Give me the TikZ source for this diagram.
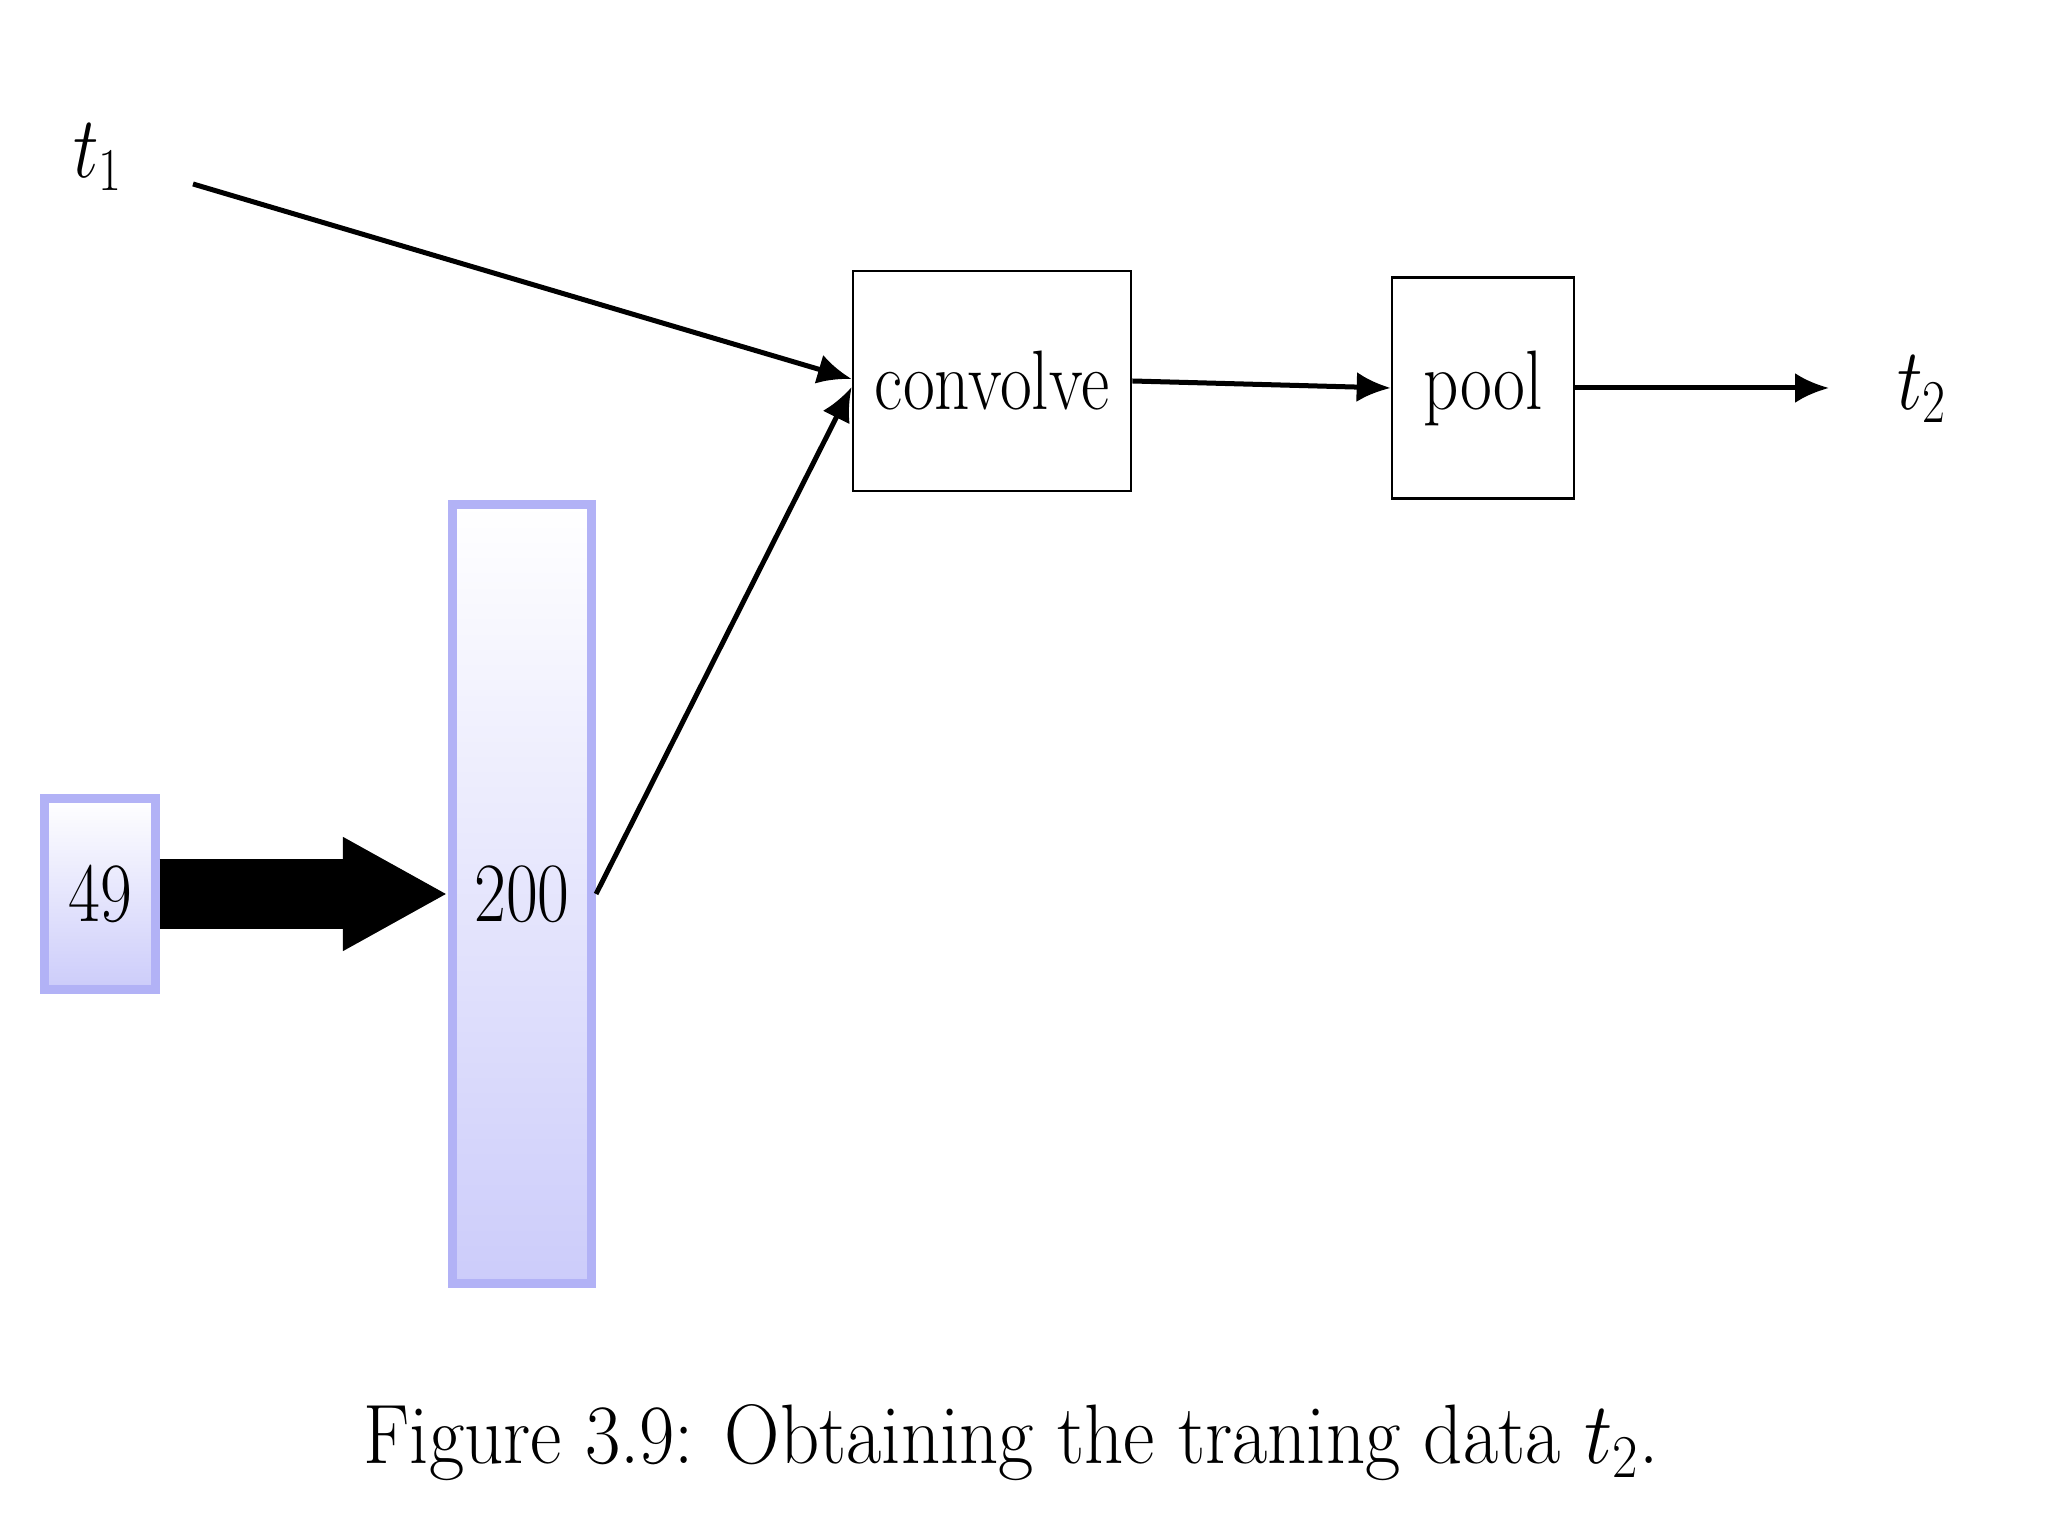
\documentclass[tikz,border=0pt]{standalone}
\usetikzlibrary{arrows.meta}
\definecolor{layline}{RGB}{178,178,246}
\definecolor{laybot}{RGB}{204,204,250}
\newcommand{\sqz}[1]{\scalebox{0.82}[1]{#1}}
\newcommand{\sqzcap}[1]{\scalebox{0.91}[1]{#1}}
\tikzset{
  txt/.style={font=\fontsize{24}{28}\selectfont, inner sep=0pt},
  blk/.style={draw=black, line width=0.025cm, inner sep=0pt, fill=white},
  layer/.style={draw=layline, line width=0.09cm, inner sep=0pt, top color=white, bottom color=laybot},
  conn/.style={line width=0.05cm, -{Latex[length=0.34cm,width=0.30cm]}},
  bigarrow/.style={line width=0.69cm, -{Triangle[length=1.05cm,width=1.06cm]}}
}
\begin{document}
\begin{tikzpicture}[x=0.01cm,y=0.01cm]
\useasboundingbox (0,0) rectangle (2048,1536);
\node[txt] (t1) at (98,1379) {\sqz{$t_1$}};
\coordinate (t1s) at (193,1352);
\node[blk, minimum width=2.78cm, minimum height=2.2cm, txt] (conv) at (992,1155) {\sqz{convolve}};
\node[blk, minimum width=1.82cm, minimum height=2.21cm, txt] (pool) at (1483,1148) {\sqz{pool}};
\node[txt] (t2) at (1922,1147) {\sqz{$t_2$}};
\coordinate (t2e) at (1829,1148);
\node[layer, minimum width=1.10cm, minimum height=1.91cm, txt] (n49) at (100,642) {\sqz{49}};
\node[layer, minimum width=1.39cm, minimum height=7.79cm, txt] (n200) at (522,642) {\sqz{200}};
\draw[bigarrow] (n49.east) -- (n200.west);
\draw[conn] (t1s) -- ([yshift=0.02cm]conv.west);
\draw[conn] (n200.east) -- ([yshift=-0.06cm]conv.west);
\draw[conn] (conv.east) -- (pool.west);
\draw[conn] (pool.east) -- (t2e);
\node[txt] (cap) at (1011,93) {\sqzcap{Figure 3.9: Obtaining the traning data $t_2$.}};
\end{tikzpicture}
\end{document}
